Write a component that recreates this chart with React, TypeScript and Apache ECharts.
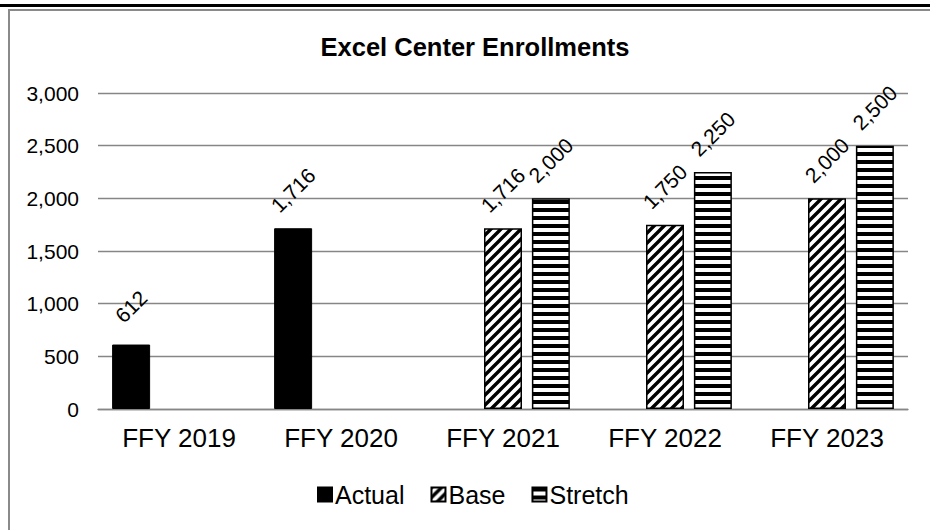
import React, { useEffect, useRef } from "react";
import * as echarts from "echarts";

const categories = ["FFY 2019", "FFY 2020", "FFY 2021", "FFY 2022", "FFY 2023"];
const actualValues: (number | null)[] = [612, 1716, null, null, null];
const baseValues: (number | null)[] = [null, null, 1716, 1750, 2000];
const stretchValues: (number | null)[] = [null, null, 2000, 2250, 2500];
const seriesNames = ["Actual", "Base", "Stretch"];
const chartTitle = "Excel Center Enrollments";

const FONT = "'Liberation Sans', Arial, sans-serif";

function makeHorizontal(): HTMLCanvasElement {
  const c = document.createElement("canvas");
  c.width = 8;
  c.height = 8;
  const ctx = c.getContext("2d")!;
  ctx.fillStyle = "#ffffff";
  ctx.fillRect(0, 0, 8, 8);
  ctx.fillStyle = "#000000";
  ctx.fillRect(0, 0, 8, 4);
  return c;
}

function makeDiagonal(): HTMLCanvasElement {
  const s = 10;
  const c = document.createElement("canvas");
  c.width = s;
  c.height = s;
  const ctx = c.getContext("2d")!;
  ctx.fillStyle = "#ffffff";
  ctx.fillRect(0, 0, s, s);
  ctx.strokeStyle = "#000000";
  ctx.lineWidth = 3.4;
  ctx.beginPath();
  ctx.moveTo(-2, s + 2);
  ctx.lineTo(s + 2, -2);
  ctx.moveTo(-2, 2);
  ctx.lineTo(2, -2);
  ctx.moveTo(s - 2, s + 2);
  ctx.lineTo(s + 2, s - 2);
  ctx.stroke();
  return c;
}

export default function App() {
  const ref = useRef<HTMLDivElement>(null);

  useEffect(() => {
    if (!ref.current) return;
    const chart = echarts.init(ref.current, null, { renderer: "svg" });
    const hz = makeHorizontal();
    const dg = makeDiagonal();
    const fmt = (p: any) =>
      p.value == null ? "" : Number(p.value).toLocaleString("en-US");
    const labelCfg = {
      show: true,
      position: "top",
      distance: 38,
      rotate: 45,
      align: "center",
      verticalAlign: "middle",
      fontSize: 21,
      fontFamily: FONT,
      color: "#000",
      formatter: fmt,
    };
    const barCommon = {
      type: "bar",
      barWidth: 38,
      barGap: "26%",
      label: labelCfg,
    };
    chart.setOption({
      animation: false,
      backgroundColor: "#ffffff",
      title: {
        text: chartTitle,
        left: 470,
        top: 29,
        textAlign: "center",
        textStyle: {
          fontFamily: FONT,
          fontWeight: "bold",
          fontSize: 25.5,
          color: "#000",
        },
      },
      graphic: [
        {
          type: "rect",
          shape: { x: 0, y: 4, width: 930, height: 3 },
          style: { fill: "#000" },
          silent: true,
        },
        {
          type: "polyline",
          shape: { points: [[9, 530], [9, 10], [930, 10]] },
          style: { fill: "none", stroke: "#8a8a8a", lineWidth: 2 },
          silent: true,
        },
        {
          type: "rect",
          shape: { x: 916, y: 12, width: 14, height: 518 },
          style: { fill: "#ffffff" },
          z: 100,
          silent: true,
        },
      ],
      legend: {
        top: 482,
        left: 317,
        padding: 0,
        icon: "rect",
        itemWidth: 14,
        itemHeight: 14,
        itemGap: 26,
        data: seriesNames,
        textStyle: {
          fontFamily: FONT,
          fontSize: 25,
          color: "#000",
          padding: [0, 0, 0, -2],
        },
      },
      grid: { left: 98, right: 22, top: 93, bottom: 121 },
      xAxis: {
        type: "category",
        data: categories,
        axisTick: { show: false },
        axisLine: { lineStyle: { color: "#868686", width: 1.3 } },
        axisLabel: {
          fontFamily: FONT,
          fontSize: 26,
          color: "#000",
          margin: 16,
        },
      },
      yAxis: {
        type: "value",
        min: 0,
        max: 3000,
        interval: 500,
        axisLine: { show: false },
        axisTick: { show: false },
        splitLine: { lineStyle: { color: "#868686", width: 1.3 } },
        axisLabel: {
          fontFamily: FONT,
          fontSize: 21,
          color: "#000",
          margin: 19,
          formatter: (v: number) => v.toLocaleString("en-US"),
        },
      },
      series: [
        {
          ...barCommon,
          name: seriesNames[0],
          data: actualValues,
          itemStyle: { color: "#000", borderColor: "#000", borderWidth: 1 },
        },
        {
          ...barCommon,
          name: seriesNames[1],
          data: baseValues,
          itemStyle: {
            color: { image: dg, repeat: "repeat", imageWidth: 10, imageHeight: 10 },
            borderColor: "#000",
            borderWidth: 1.5,
          },
        },
        {
          ...barCommon,
          name: seriesNames[2],
          data: stretchValues,
          itemStyle: {
            color: { image: hz, repeat: "repeat", imageWidth: 8, imageHeight: 8 },
            borderColor: "#000",
            borderWidth: 1.5,
          },
        },
      ],
    });
    return () => chart.dispose();
  }, []);

  return (
    <div
      ref={ref}
      style={{ position: "fixed", left: 0, top: 0, width: 930, height: 530 }}
    />
  );
}
